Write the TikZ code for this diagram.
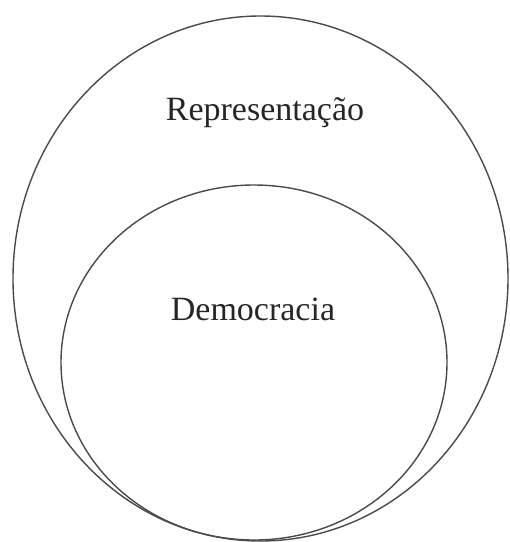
\documentclass[tikz,border=0pt]{standalone}
\usepackage{fontspec}
\setmainfont{Liberation Serif}
\usetikzlibrary{shapes.geometric, positioning}
\definecolor{ringgray}{HTML}{4A4A4A}

\begin{document}
\begin{tikzpicture}[
  x=1pt, y=-1pt,
  ring/.style={ellipse, draw=ringgray, line width=1.4pt, inner sep=0pt},
  word/.style={font=\fontsize{34}{40}\selectfont, text=black!85, inner sep=0pt}
]
\useasboundingbox (0,0) rectangle (510,542);
\node[ring, minimum width=495pt, minimum height=525pt] (repr) at (260.5,278.5) {};
\node[ring, minimum width=386pt, minimum height=355pt] (demo) at (254,362.5) {};
\node[word] (reprlabel) at (265,113) {Representação};
\node[word] (demolabel) at (253,309) {Democracia};
\end{tikzpicture}
\end{document}
